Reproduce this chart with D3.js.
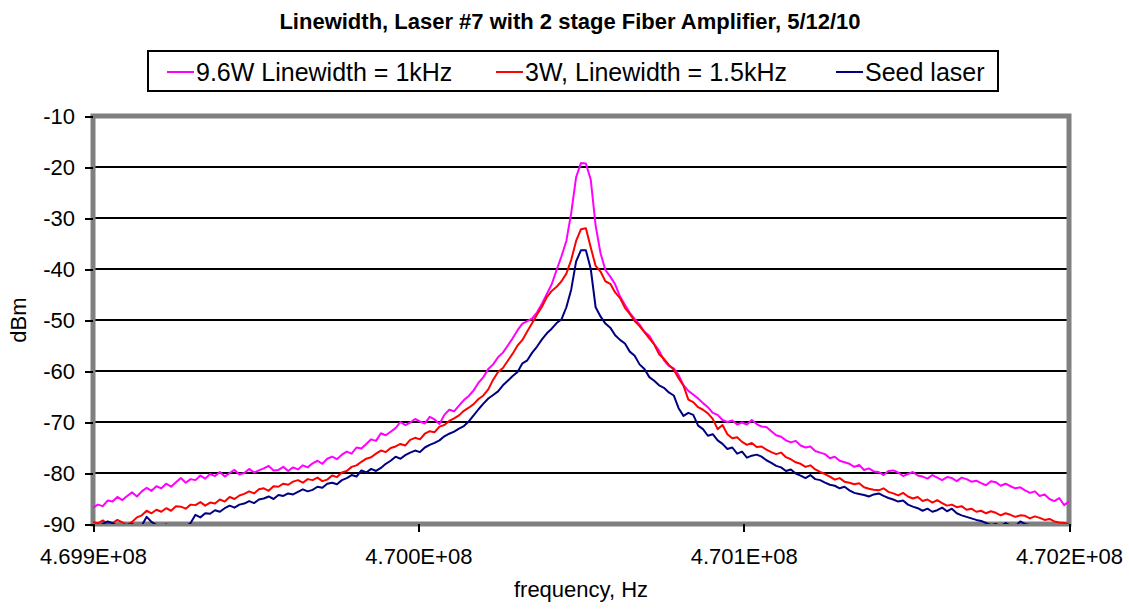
<!DOCTYPE html>
<meta charset="utf-8">
<style>
    body {
        margin: 0;
        background: #fff;
    }
    svg {
        font-family: "Liberation Sans", Arial, sans-serif;
    }
    .axis line {
        stroke: #000;
        stroke-width: 2px;
        shape-rendering: crispEdges;
    }
    .axis text {
        fill: #000;
    }
</style>
<body>
<script src="https://cdn.jsdelivr.net/npm/d3@7"></script>
<script>
    const chartTitle = "Linewidth, Laser #7 with 2 stage Fiber Amplifier, 5/12/10";
    const seriesNames = ["9.6W Linewidth = 1kHz", "3W, Linewidth = 1.5kHz", "Seed laser"];
    const seriesColors = ["#ff00ff", "#ff0000", "#000080"];

    // analyzer sweep: 201 points, 469.9 MHz .. 470.2 MHz
    const sweepStart = 469900000;
    const sweepStep = 1500;

    // dBm, one value per sweep point
    const amp96W = [
        -86.8, -86.2, -86.5, -85.4, -85.6, -84.7, -85.3, -84.5, -83.8, -84.6,
        -83.6, -82.9, -83.5, -82.6, -83.0, -82.1, -82.7, -81.8, -81.0, -81.9,
        -81.2, -81.4, -80.5, -81.1, -80.2, -80.6, -79.8, -80.7, -80.0, -79.4,
        -80.3, -80.0, -79.2, -79.9, -79.5, -79.1, -78.6, -79.5, -79.4, -78.8,
        -79.6, -78.9, -79.3, -78.5, -78.9, -78.1, -77.6, -78.2, -77.2, -76.8,
        -77.3, -76.4, -75.8, -76.2, -75.0, -75.2, -74.3, -73.4, -73.7, -72.2,
        -72.6, -71.9, -71.2, -70.0, -70.6, -70.1, -69.4, -69.9, -70.3, -69.0,
        -69.5, -70.4, -68.6, -67.6, -67.9, -66.8, -65.7, -64.9, -63.8, -62.3,
        -61.2, -59.6, -58.7, -57.3, -56.4, -55.0, -53.6, -52.0, -50.7, -50.2,
        -49.7, -48.5, -46.8, -44.9, -43.0, -40.2, -37.5, -34.5, -29.0, -22.0,
        -19.2, -19.3, -22.5, -31.5, -36.9, -40.2, -41.5, -43.0, -45.4, -47.0,
        -48.6, -49.8, -50.9, -52.3, -53.1, -54.7, -56.0, -57.9, -59.0, -59.5,
        -60.8, -62.8, -63.9, -64.6, -65.4, -66.3, -67.1, -68.2, -68.6, -69.6,
        -70.0, -69.7, -70.5, -70.1, -70.5, -69.6, -70.4, -70.9, -71.0, -71.8,
        -72.6, -72.9, -73.6, -74.0, -73.7, -74.6, -75.0, -74.8, -75.7, -76.0,
        -76.3, -77.1, -76.8, -77.6, -77.9, -78.2, -78.8, -78.4, -79.4, -79.1,
        -79.7, -79.8, -80.4, -79.6, -79.5, -79.9, -80.6, -80.2, -79.8, -80.5,
        -80.7, -81.1, -80.4, -80.9, -81.4, -80.8, -81.0, -81.6, -80.9, -81.2,
        -81.7, -81.5, -82.0, -82.4, -81.6, -81.8, -82.5, -82.1, -82.6, -83.0,
        -82.8, -83.4, -83.9, -83.6, -84.5, -84.2, -85.1, -85.5, -84.9, -86.3, -85.6
    ];

    const amp3W = [
        -89.6, -89.9, -89.3, -90.0, -89.8, -89.2, -89.7, -90.2, -89.6, -88.7,
        -88.3, -87.4, -87.9, -87.2, -87.6, -86.9, -87.4, -86.5, -86.6, -87.0,
        -86.2, -86.3, -85.7, -86.4, -85.8, -86.0, -85.2, -85.6, -84.7, -85.1,
        -84.4, -84.1, -83.6, -84.0, -83.2, -83.0, -83.5, -82.6, -82.7, -82.1,
        -82.3, -81.7, -81.4, -81.9, -81.2, -81.4, -80.9, -81.6, -81.3, -80.5,
        -80.8, -79.9, -79.6, -78.8, -78.5, -77.8, -77.2, -76.9, -76.2, -75.6,
        -75.9, -75.1, -74.8, -74.3, -74.6, -73.5, -73.1, -73.4, -72.3, -71.8,
        -72.0, -70.9, -70.6, -69.8, -69.3, -68.7, -67.8, -67.2, -66.5, -65.5,
        -64.8, -63.6, -61.7, -60.2, -59.4, -58.0, -56.6, -55.0, -53.9, -52.2,
        -50.6, -48.9, -47.4, -45.5, -44.3, -43.5, -42.4, -40.9, -38.2, -34.5,
        -32.2, -32.0, -35.8, -39.4, -40.5, -42.4, -42.9, -44.6, -45.7, -47.6,
        -48.8, -50.2, -51.2, -52.4, -53.6, -54.8, -56.7, -57.6, -58.8, -59.7,
        -61.4, -62.9, -65.6, -66.1, -67.1, -67.6, -68.3, -69.4, -71.4, -70.6,
        -72.4, -73.2, -73.0, -73.9, -74.5, -74.1, -74.9, -74.8, -75.4, -75.9,
        -76.3, -76.0, -76.9, -77.3, -77.9, -78.2, -78.8, -78.5, -79.3, -79.8,
        -80.2, -80.7, -81.3, -81.0, -81.7, -81.9, -82.2, -82.0, -82.8, -83.1,
        -83.3, -83.4, -83.0, -83.7, -84.0, -84.4, -83.9, -84.6, -85.0, -84.7,
        -85.5, -85.2, -85.8, -85.3, -85.9, -86.4, -86.2, -86.7, -86.5, -87.2,
        -87.0, -87.6, -87.4, -87.9, -87.5, -87.8, -88.3, -87.9, -88.2, -88.6,
        -88.3, -88.4, -88.9, -88.5, -88.8, -89.2, -89.0, -89.5, -89.7, -89.8, -90.0
    ];

    const ampSeed = [
        -90.3, -90.5, -90.0, -89.5, -89.8, -90.4, -90.6, -90.2, -90.0, -90.5,
        -90.3, -88.6, -89.6, -90.2, -90.4, -90.1, -90.5, -90.3, -90.2, -90.5,
        -89.8, -88.2, -88.7, -87.9, -88.0, -87.3, -87.6, -86.9, -86.4, -86.8,
        -86.2, -86.0, -85.5, -85.9, -85.2, -85.0, -84.6, -85.1, -84.3, -84.5,
        -84.0, -84.2, -83.7, -83.2, -83.6, -83.3, -82.7, -82.9, -82.1, -81.9,
        -82.2, -81.4, -81.0, -80.4, -80.7, -79.5, -79.9, -79.2, -79.6, -79.0,
        -78.2, -77.6, -76.8, -77.2, -76.5, -76.0, -75.6, -75.9, -75.0, -74.5,
        -74.1, -73.6, -72.8, -72.3, -71.9, -71.3, -70.8, -69.9, -68.7, -67.5,
        -66.4, -65.4, -64.7, -64.0, -62.8, -61.9, -61.0, -60.2, -58.5, -57.9,
        -56.4, -55.2, -53.8, -52.6, -51.7, -50.6, -49.9, -47.5, -44.0, -38.5,
        -36.3, -36.3, -40.0, -47.5, -49.3, -50.7, -51.5, -53.0, -53.9, -54.6,
        -56.2, -57.0, -58.7, -59.6, -61.2, -61.9, -62.8, -63.3, -64.2, -64.8,
        -67.3, -68.8, -68.2, -68.6, -70.7, -71.4, -72.7, -72.4, -73.6, -74.3,
        -75.3, -75.0, -76.2, -75.8, -77.0, -76.6, -76.4, -76.8, -77.5, -78.0,
        -78.6, -78.9, -79.6, -79.3, -80.1, -80.5, -81.0, -80.4, -81.2, -81.4,
        -81.9, -82.3, -82.5, -83.0, -82.7, -83.4, -83.9, -84.1, -84.3, -84.6,
        -84.2, -84.0, -84.5, -84.9, -85.2, -85.6, -85.4, -86.2, -86.6, -86.9,
        -87.4, -87.0, -87.6, -87.3, -86.8, -87.5, -87.0, -87.9, -88.3, -88.6,
        -88.9, -89.2, -89.4, -89.8, -90.2, -90.0, -90.4, -89.8, -90.3, -90.5,
        -89.5, -90.0, -90.2, -90.6, -90.5, -90.4, -90.6, -90.5, -90.7, -90.5, -90.6
    ];

    const yTicks = [-90, -80, -70, -60, -50, -40, -30, -20, -10];
    const xTicks = [469900000, 470000000, 470100000, 470200000];

    const width = 1129;
    const height = 609;
    const plot = {left: 93, top: 116, right: 1069, bottom: 524};

    const x = d3.scaleLinear()
        .domain([469900000, 470200000])
        .range([plot.left, plot.right]);

    const y = d3.scaleLinear()
        .domain([-90, -10])
        .range([plot.bottom, plot.top]);

    const svg = d3.select('body')
        .append('svg')
        .attr('width', width)
        .attr('height', height);

    // gridlines
    svg.append('g')
        .selectAll('line')
        .data(yTicks.slice(1, -1))
        .enter().append('line')
        .attr('x1', plot.left)
        .attr('x2', plot.right)
        .attr('y1', d => y(d))
        .attr('y2', d => y(d))
        .style('stroke', '#000')
        .style('stroke-width', 2);

    // gray plot frame
    svg.append('rect')
        .attr('x', plot.left)
        .attr('y', plot.top)
        .attr('width', plot.right - plot.left)
        .attr('height', plot.bottom - plot.top)
        .style('fill', 'none')
        .style('stroke', '#808080')
        .style('stroke-width', 5);

    svg.append('clipPath')
        .attr('id', 'plotclip')
        .append('rect')
        .attr('x', plot.left)
        .attr('y', plot.top)
        .attr('width', plot.right - plot.left)
        .attr('height', plot.bottom - plot.top);

    const line = d3.line()
        .x((d, i) => x(sweepStart + i * sweepStep))
        .y(d => y(d));

    const series = [amp96W, amp3W, ampSeed];

    svg.append('g')
        .attr('clip-path', 'url(#plotclip)')
        .selectAll('path')
        .data(series)
        .enter().append('path')
        .attr('d', line)
        .style('fill', 'none')
        .style('stroke', (d, i) => seriesColors[i])
        .style('stroke-width', 2)
        .style('stroke-linejoin', 'round');

    // axes
    const yAxis = d3.axisLeft(y)
        .tickValues(yTicks)
        .tickSize(8)
        .tickPadding(10)
        .tickFormat(d => String(d));

    const gy = svg.append('g')
        .attr('class', 'axis')
        .attr('transform', 'translate(' + plot.left + ',0)')
        .call(yAxis);
    gy.select('.domain').remove();
    gy.selectAll('text').style('font-size', '22px');

    const xAxis = d3.axisBottom(x)
        .tickValues(xTicks)
        .tickSize(8)
        .tickPadding(16)
        .tickFormat(d => (d / 1e8).toFixed(3) + 'E+08');

    const gx = svg.append('g')
        .attr('class', 'axis')
        .attr('transform', 'translate(0,' + plot.bottom + ')')
        .call(xAxis);
    gx.select('.domain').remove();
    gx.selectAll('text').style('font-size', '22px');

    // axis titles
    svg.append('text')
        .attr('transform', 'translate(25.5,320) rotate(-90)')
        .style('text-anchor', 'middle')
        .style('font-size', '22px')
        .text('dBm');

    svg.append('text')
        .attr('x', (plot.left + plot.right) / 2)
        .attr('y', 597)
        .style('text-anchor', 'middle')
        .style('font-size', '22px')
        .text('frequency, Hz');

    // title
    svg.append('text')
        .attr('x', 570)
        .attr('y', 29)
        .style('text-anchor', 'middle')
        .style('font-size', '22px')
        .style('font-weight', 'bold')
        .text(chartTitle);

    // legend
    const legendBox = {x: 148, y: 51, w: 850, h: 40};
    const legendX = [167, 496, 836];

    const legend = svg.append('g').attr('class', 'legend');
    legend.append('rect')
        .attr('x', legendBox.x)
        .attr('y', legendBox.y)
        .attr('width', legendBox.w)
        .attr('height', legendBox.h)
        .style('fill', '#fff')
        .style('stroke', '#000')
        .style('stroke-width', 2);

    const item = legend.selectAll('.item')
        .data(seriesNames)
        .enter().append('g')
        .attr('class', 'item')
        .attr('transform', (d, i) => 'translate(' + legendX[i] + ',0)');

    item.append('line')
        .attr('x1', 0)
        .attr('x2', 27)
        .attr('y1', 72)
        .attr('y2', 72)
        .style('stroke', (d, i) => seriesColors[i])
        .style('stroke-width', 2);

    item.append('text')
        .attr('x', 29)
        .attr('y', 81)
        .style('font-size', '25px')
        .text(d => d);
</script>
</body>
</html>
